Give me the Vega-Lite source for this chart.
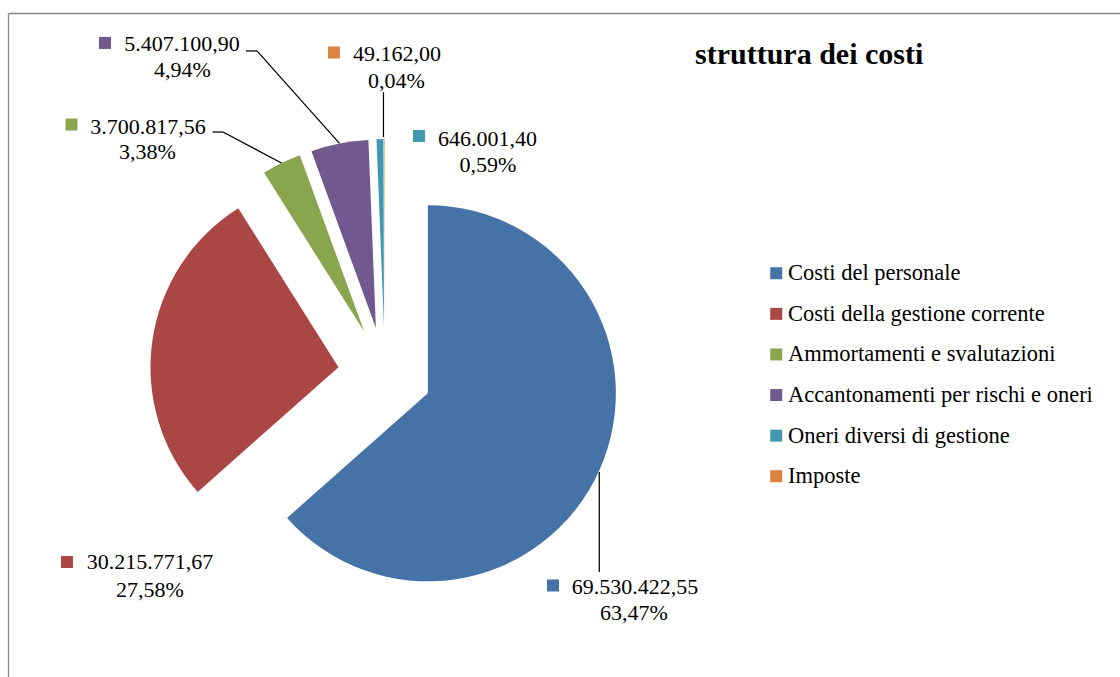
{
  "$schema": "https://vega.github.io/schema/vega-lite/v6.json",
  "width": 1112,
  "height": 664,
  "autosize": {"type": "none"},
  "padding": {"left": 8, "top": 13, "right": 0, "bottom": 0},
  "background": "white",
  "config": {
    "locale": {"number": {"decimal": ",", "thousands": ".", "grouping": [3], "currency": ["", " €"]}},
    "view": {"stroke": null},
    "font": "Liberation Serif",
    "axis": {"domain": true, "domainColor": "#868686", "domainWidth": 1.3, "ticks": false, "labels": false, "grid": false, "title": null},
    "text": {"font": "Liberation Serif", "fontSize": 22, "color": "black", "baseline": "alphabetic", "align": "center"},
    "rule": {"color": "black", "strokeWidth": 1.25}
  },
  "title": {"text": "struttura dei costi", "anchor": "start", "frame": "group", "orient": "top", "offset": 0, "baseline": "alphabetic", "dx": 687, "dy": 81, "font": "Liberation Serif", "fontSize": 30, "fontWeight": "bold", "color": "black"},
  "data": {"values": [
    {"cat": "Costi del personale", "value": 69530422.55},
    {"cat": "Costi della gestione corrente", "value": 30215771.67},
    {"cat": "Ammortamenti e svalutazioni", "value": 3700817.56},
    {"cat": "Accantonamenti per rischi e oneri", "value": 5407100.90},
    {"cat": "Oneri diversi di gestione", "value": 646001.40},
    {"cat": "Imposte", "value": 49162.00}
  ]},
  "transform": [
    {"window": [{"op": "sum", "field": "value", "as": "cum"}], "frame": [null, 0]},
    {"joinaggregate": [{"op": "sum", "field": "value", "as": "total"}]},
    {"calculate": "datum.value / datum.total", "as": "pct"},
    {"calculate": "datum.cum / datum.total", "as": "t1"},
    {"calculate": "(datum.cum - datum.value) / datum.total", "as": "t0"},
    {"calculate": "sin(PI * (datum.t0 + datum.t1))", "as": "sm"},
    {"calculate": "cos(PI * (datum.t0 + datum.t1))", "as": "cm"}
  ],
  "encoding": {
    "x": {"field": "px", "type": "quantitative", "scale": {"domain": [-2.00532, 3.90957], "nice": false, "zero": false}, "axis": {"orient": "top", "domain": true}},
    "y": {"field": "py", "type": "quantitative", "scale": {"domain": [-1.6117, 1.92021], "nice": false, "zero": false}, "axis": {"orient": "left", "domain": true}}
  },
  "layer": [
    {
      "transform": [{"calculate": "0.25 * datum.sm", "as": "px"}, {"calculate": "0.25 * datum.cm", "as": "py"}],
      "mark": {"type": "arc", "outerRadius": 188},
      "encoding": {
        "theta": {"field": "t0", "type": "quantitative", "scale": {"domain": [0, 1], "range": [0, 6.283185307179586]}},
        "theta2": {"field": "t1"},
        "color": {
          "field": "cat", "type": "nominal",
          "scale": {
            "domain": ["Costi del personale", "Costi della gestione corrente", "Ammortamenti e svalutazioni", "Accantonamenti per rischi e oneri", "Oneri diversi di gestione", "Imposte"],
            "range": ["#4572A7", "#AA4643", "#89A54E", "#71588F", "#4198AF", "#DB843D"]
          },
          "legend": {"title": null, "orient": "none", "legendX": 757, "legendY": 249, "symbolType": "square", "symbolSize": 144, "symbolStrokeWidth": 0, "symbolOpacity": 1, "labelFontSize": 22.5, "labelFont": "Liberation Serif", "labelColor": "black", "rowPadding": 17.6, "labelOffset": 0.5, "padding": 0, "labelLimit": 400}
        }
      }
    },
    {
      "transform": [{"calculate": "1.25 * datum.sm", "as": "px"}, {"calculate": "1.25 * datum.cm", "as": "py"}],
      "layer": [
        {
          "transform": [{"filter": "datum.cat === 'Costi del personale'"}],
          "layer": [
            {"mark": {"type": "square", "size": 144, "opacity": 1, "xOffset": -46.3, "yOffset": 115}, "encoding": {"color": {"field": "cat", "type": "nominal", "legend": null}}},
            {"mark": {"type": "text", "dx": 35.7, "dy": 123}, "encoding": {"text": {"field": "value", "type": "quantitative", "format": ",.2f"}}},
            {"mark": {"type": "text", "dx": 34.7, "dy": 149}, "encoding": {"text": {"field": "pct", "type": "quantitative", "format": ".2%"}}},
            {"mark": {"type": "rule", "yOffset": 1.5, "y2Offset": 101.5}, "encoding": {"x2": {"field": "px"}, "y2": {"field": "py"}}}
          ]
        },
        {
          "transform": [{"filter": "datum.cat === 'Costi della gestione corrente'"}],
          "layer": [
            {"mark": {"type": "square", "size": 144, "opacity": 1, "xOffset": -85.4, "yOffset": 221.3}, "encoding": {"color": {"field": "cat", "type": "nominal", "legend": null}}},
            {"mark": {"type": "text", "dx": -2.4, "dy": 227.8}, "encoding": {"text": {"field": "value", "type": "quantitative", "format": ",.2f"}}},
            {"mark": {"type": "text", "dx": -2.4, "dy": 255.8}, "encoding": {"text": {"field": "pct", "type": "quantitative", "format": ".2%"}}}
          ]
        },
        {
          "transform": [{"filter": "datum.cat === 'Ammortamenti e svalutazioni'"}],
          "layer": [
            {"mark": {"type": "square", "size": 144, "opacity": 1, "xOffset": -210, "yOffset": -38.5}, "encoding": {"color": {"field": "cat", "type": "nominal", "legend": null}}},
            {"mark": {"type": "text", "dx": -133.5, "dy": -29.5}, "encoding": {"text": {"field": "value", "type": "quantitative", "format": ",.2f"}}},
            {"mark": {"type": "text", "dx": -134, "dy": -4.5}, "encoding": {"text": {"field": "pct", "type": "quantitative", "format": ".2%"}}},
            {"mark": {"type": "rule", "x2Offset": -58.5, "y2Offset": -31}, "encoding": {"x2": {"field": "px"}, "y2": {"field": "py"}}},
            {"mark": {"type": "rule", "xOffset": -58.5, "yOffset": -31, "x2Offset": -69, "y2Offset": -31}, "encoding": {"x2": {"field": "px"}, "y2": {"field": "py"}}}
          ]
        },
        {
          "transform": [{"filter": "datum.cat === 'Accantonamenti per rischi e oneri'"}],
          "layer": [
            {"mark": {"type": "square", "size": 144, "opacity": 1, "xOffset": -234.5, "yOffset": -100.5}, "encoding": {"color": {"field": "cat", "type": "nominal", "legend": null}}},
            {"mark": {"type": "text", "dx": -157.5, "dy": -92}, "encoding": {"text": {"field": "value", "type": "quantitative", "format": ",.2f"}}},
            {"mark": {"type": "text", "dx": -157, "dy": -66}, "encoding": {"text": {"field": "pct", "type": "quantitative", "format": ".2%"}}},
            {"mark": {"type": "rule", "x2Offset": -82.5, "y2Offset": -92.5}, "encoding": {"x2": {"field": "px"}, "y2": {"field": "py"}}},
            {"mark": {"type": "rule", "xOffset": -82.5, "yOffset": -92.5, "x2Offset": -93.5, "y2Offset": -92.5}, "encoding": {"x2": {"field": "px"}, "y2": {"field": "py"}}}
          ]
        },
        {
          "transform": [{"filter": "datum.cat === 'Oneri diversi di gestione'"}],
          "layer": [
            {"mark": {"type": "square", "size": 144, "opacity": 1, "xOffset": 39, "yOffset": -3}, "encoding": {"color": {"field": "cat", "type": "nominal", "legend": null}}},
            {"mark": {"type": "text", "dx": 107.5, "dy": 6.5}, "encoding": {"text": {"field": "value", "type": "quantitative", "format": ",.2f"}}},
            {"mark": {"type": "text", "dx": 108, "dy": 32.5}, "encoding": {"text": {"field": "pct", "type": "quantitative", "format": ".2%"}}}
          ]
        },
        {
          "transform": [{"filter": "datum.cat === 'Imposte'"}],
          "layer": [
            {"mark": {"type": "square", "size": 144, "opacity": 1, "xOffset": -50.7, "yOffset": -86.5}, "encoding": {"color": {"field": "cat", "type": "nominal", "legend": null}}},
            {"mark": {"type": "text", "dx": 12.3, "dy": -77.5}, "encoding": {"text": {"field": "value", "type": "quantitative", "format": ",.2f"}}},
            {"mark": {"type": "text", "dx": 11.8, "dy": -51}, "encoding": {"text": {"field": "pct", "type": "quantitative", "format": ".2%"}}},
            {"mark": {"type": "rule", "xOffset": -1.2, "yOffset": -2, "x2Offset": -1.2, "y2Offset": -47}, "encoding": {"x2": {"field": "px"}, "y2": {"field": "py"}}}
          ]
        }
      ]
    }
  ]
}
